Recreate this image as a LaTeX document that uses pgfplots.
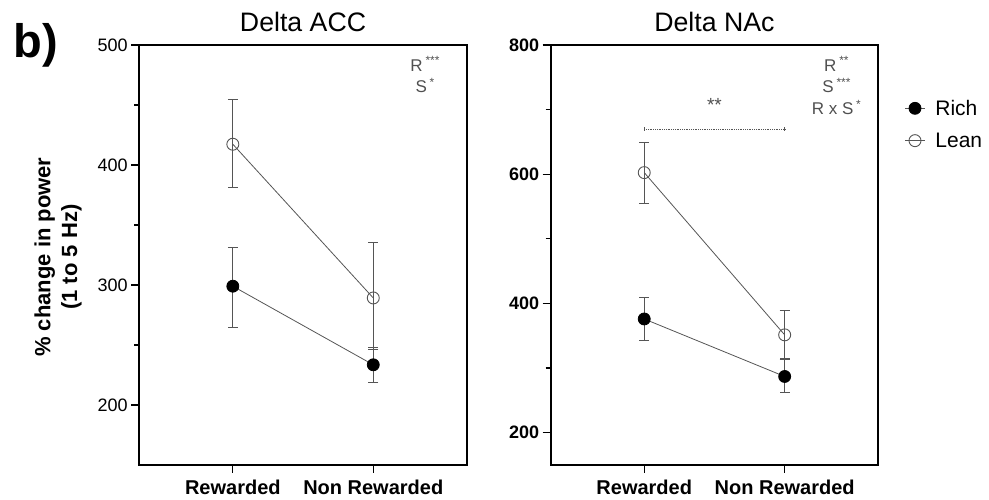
\documentclass[border=0pt]{standalone}
\usepackage{pgfplots}
\pgfplotsset{compat=1.18}
\usepackage{fontspec}
\setmainfont{Liberation Sans}
\definecolor{lg}{RGB}{85,85,85}
\definecolor{tg}{RGB}{80,80,80}
\pgfplotsset{
  panel/.style={
    scale only axis, width=327.5pt, height=420pt,
    xmin=-0.666, xmax=1.666,
    xtick={0,1}, xticklabels={Rewarded,Non Rewarded},
    axis line style={black, line width=1.6pt},
    tick style={black, line width=1.3pt},
    major tick length=8pt, minor tick length=5pt,
    tick align=outside, xtick pos=bottom, ytick pos=left,
    xticklabel style={font=\bfseries\fontsize{20}{24}\selectfont, yshift=-3pt},
    /pgf/number format/assume math mode=true,
    clip=false,
    error bars/error bar style={lg, line width=0.9pt},
    error bars/error mark options={lg, line width=0.9pt, rotate=90, mark size=5pt},
  },
  lean/.style={lg, line width=0.8pt, mark=o, mark size=6pt, mark options={lg, line width=0.9pt},
    error bars/.cd, y dir=both, y explicit},
  rich/.style={lg, line width=0.8pt, mark=*, mark size=6pt, mark options={black, fill=black},
    error bars/.cd, y dir=both, y explicit},
}
\begin{document}
\begin{tikzpicture}[x=1pt,y=1pt]
\useasboundingbox (0,0) rectangle (989,500);
\begin{axis}[panel, at={(139.3pt,35pt)}, anchor=south west,
  ymin=150, ymax=500, ytick={200,300,400,500}, minor ytick={250,350,450},
  yticklabel style={font=\fontsize{18}{20}\selectfont},
  ylabel={\% change in power\\(1 to 5 Hz)},
  ylabel style={font=\bfseries\fontsize{22}{26.7}\selectfont, align=center,
    at={(rel axis cs:-0.248,0.495)}, anchor=center},
]
\addplot+[lean] coordinates {(0,417.3) += (0,37) -= (0,36) (1,289.2) += (0,46) -= (0,43)};
\addplot+[rich] coordinates {(0,299) += (0,32) -= (0,34) (1,233.5) += (0,14.5) -= (0,14.5)};
\node[font=\fontsize{26.7}{30}\selectfont, anchor=center] at (rel axis cs:0.5,1.0548) {Delta ACC};
\node[font=\bfseries\fontsize{47}{50}\selectfont, anchor=center] at (rel axis cs:-0.317,1.0) {b)};
\node[tg, font=\fontsize{17}{20}\selectfont] at (rel axis cs:0.873,0.955) {R\,\textsuperscript{***}};
\node[tg, font=\fontsize{17}{20}\selectfont] at (rel axis cs:0.873,0.903) {S\,\textsuperscript{*}};
\end{axis}
\begin{axis}[panel, at={(550.7pt,35pt)}, anchor=south west,
  ymin=150, ymax=800, ytick={200,400,600,800}, minor ytick={300,500,700},
  yticklabel style={font=\bfseries\fontsize{18}{20}\selectfont},
  legend style={at={(rel axis cs:1.08,0.872)}, anchor=north west, draw=none, fill=none,
    font=\fontsize{21}{25}\selectfont, row sep=14pt, inner sep=0pt,
    nodes={inner sep=1pt}},
  legend cell align=left,
  legend image code/.code={\draw[mark repeat=2,mark phase=2] plot coordinates {(0pt,0pt) (10pt,0pt) (20pt,0pt)};},
]
\addplot+[rich] coordinates {(0,376) += (0,34) -= (0,33) (1,287) += (0,27) -= (0,24)};
\addlegendentry{\hspace{9pt}Rich}
\addplot+[lean] coordinates {(0,602.5) += (0,47) -= (0,48.5) (1,351.4) += (0,38) -= (0,37)};
\addlegendentry{\hspace{9pt}Lean}
\draw[lg, line width=0.8pt, densely dotted] (axis cs:0,670) -- (axis cs:1,670);
\draw[lg, line width=1pt] (axis cs:0,667) -- (axis cs:0,673);
\draw[lg, line width=1pt] (axis cs:1,667) -- (axis cs:1,673);
\node[tg, font=\fontsize{19}{20}\selectfont] at (axis cs:0.5,707) {**};
\node[font=\fontsize{26.7}{30}\selectfont, anchor=center] at (rel axis cs:0.5,1.0548) {Delta NAc};
\node[tg, font=\fontsize{17}{20}\selectfont] at (rel axis cs:0.873,0.955) {R\,\textsuperscript{**}};
\node[tg, font=\fontsize{17}{20}\selectfont] at (rel axis cs:0.873,0.903) {S\,\textsuperscript{***}};
\node[tg, font=\fontsize{17}{20}\selectfont] at (rel axis cs:0.873,0.851) {R x S\,\textsuperscript{*}};
\end{axis}
\end{tikzpicture}
\end{document}
